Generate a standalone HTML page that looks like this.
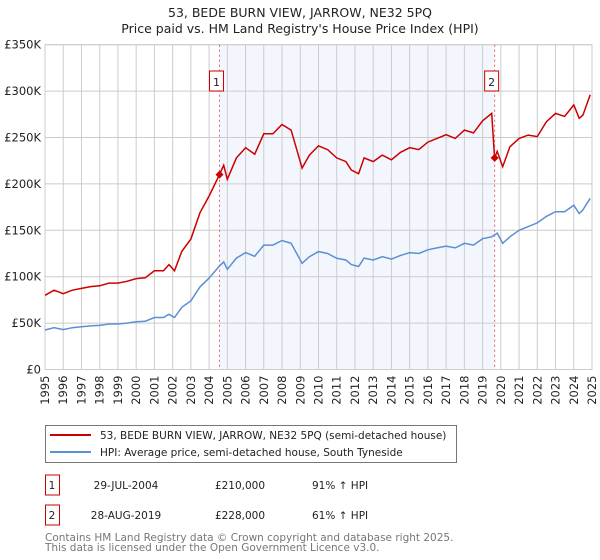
<!DOCTYPE html>
<html><head><meta charset="utf-8"><style>
body{margin:0;background:#fff;font-family:"DejaVu Sans","Liberation Sans",sans-serif;}
#wrap{position:relative;width:600px;height:560px;overflow:hidden}
svg text{font-family:"DejaVu Sans","Liberation Sans",sans-serif}
</style></head><body>
<div id="wrap">
<svg id="chart" width="600" height="560"></svg>
</div>
<script>
const years=[1995,1995.5,1996,1996.5,1997,1997.5,1998,1998.5,1999,1999.5,2000,2000.5,2001,2001.5,2001.8,2002.1,2002.5,2003,2003.5,2004,2004.57,2004.8,2005,2005.5,2006,2006.5,2007,2007.5,2008,2008.5,2009.1,2009.5,2010,2010.5,2011,2011.5,2011.8,2012.2,2012.5,2013,2013.5,2014,2014.5,2015,2015.5,2016,2016.5,2017,2017.5,2018,2018.5,2019,2019.5,2019.66,2019.8,2020.1,2020.5,2021,2021.5,2022,2022.5,2023,2023.5,2024,2024.3,2024.5,2024.9];
const hpi=[42.6,45,43,45,46,47,47.5,49,49,50,51.5,52,56,56,59.5,56,67,74,89,98.5,111.6,116,108,120,126,122,134,134,139,136,114.4,121.5,127,125,119.8,118,113,111,120,118,121.5,119,123,126,125,129,131,133,131,136,134,141,143,145,147,136,143,150,154,158,165,170,170,177,168,172,184.5];
const paid=[80,85.5,81.7,85.5,87.4,89.3,90.2,93.1,93.1,95,97.9,98.8,106.4,106.4,113,106.4,127.3,140.6,169,187,210,220,205,228,239,232,254,254,264,258,217,231,241,237,228,224,215,211,228,224,231,226,234,239,237,245,249,253,249,258,255,268,276,228,235,218.5,240,249,252.6,251,267,276,272.7,285,270.7,274,296];
const yTicks=[0,50,100,150,200,250,300,350];
const xTicks=[1995,1996,1997,1998,1999,2000,2001,2002,2003,2004,2005,2006,2007,2008,2009,2010,2011,2012,2013,2014,2015,2016,2017,2018,2019,2020,2021,2022,2023,2024,2025];
const sales=[{n:"1",year:2004.57,val:210},{n:"2",year:2019.66,val:228}];
const L=45,R=592,T=44.7,B=369.5;
const X=y=>L+(y-1995)/30*(R-L);
const Y=v=>B-v/350*(B-T);
const svg=document.getElementById('chart');
const NS='http://www.w3.org/2000/svg';
function mk(t,a,p){const e=document.createElementNS(NS,t);for(const k in a)e.setAttribute(k,a[k]);(p||svg).appendChild(e);return e;}
let e;
e=mk('text',{x:300,y:17,'text-anchor':'middle','font-size':12.5,fill:'#222'});e.textContent='53, BEDE BURN VIEW, JARROW, NE32 5PQ';


e=mk('text',{x:300,y:33,'text-anchor':'middle','font-size':12.5,fill:'#222'});e.textContent="Price paid vs. HM Land Registry's House Price Index (HPI)";


e=mk('rect',{x:X(2004.57),y:T,width:X(2019.66)-X(2004.57),height:B-T,fill:'#eef3fc',opacity:0.7});


xTicks.forEach(t=>{e=mk('line',{x1:X(t),x2:X(t),y1:T,y2:B,stroke:'#ccc','stroke-width':1});


e=mk('text',{transform:`translate(${X(t)+4},${B+6}) rotate(-90)`,'text-anchor':'end','font-size':11.5,fill:'#222'});e.textContent=t;

});
yTicks.forEach(t=>{e=mk('line',{x1:L,x2:R,y1:Y(t),y2:Y(t),stroke:'#ccc','stroke-width':1});


e=mk('text',{x:L-4,y:Y(t)+4,'text-anchor':'end','font-size':11.5,fill:'#222'});e.textContent=t===0?'£0':'£'+t+'K';

});
e=mk('rect',{x:L,y:T,width:R-L,height:B-T,fill:'none',stroke:'#ccc'});


sales.forEach(s=>{e=mk('line',{x1:X(s.year),x2:X(s.year),y1:T,y2:B,stroke:'#e06070','stroke-width':1,'stroke-dasharray':'2,3'});


e=mk('rect',{x:X(s.year)-10,y:71,width:14,height:20,fill:'#fff',stroke:'#c00'});


e=mk('text',{x:X(s.year)-3,y:86,'text-anchor':'middle','font-size':11,fill:'#222'});e.textContent=s.n;

});
const pts=a=>years.map((y,i)=>X(y).toFixed(1)+','+Y(a[i]).toFixed(1)).join(' ');
e=mk('polyline',{points:pts(hpi),fill:'none',stroke:'#5b8fd4','stroke-width':1.5});


e=mk('polyline',{points:pts(paid),fill:'none',stroke:'#cc0000','stroke-width':1.5});


sales.forEach(s=>{const cx=X(s.year),cy=Y(s.val);e=mk('polygon',{points:`${cx-4},${cy} ${cx},${cy-4} ${cx+4},${cy} ${cx},${cy+4}`,fill:'#cc0000'});

});
// legend
e=mk('rect',{x:45.5,y:425.5,width:411,height:37,fill:'#fff',stroke:'#777'});


e=mk('line',{x1:50,x2:91,y1:435,y2:435,stroke:'#cc0000','stroke-width':2});


e=mk('text',{x:100,y:439,'font-size':10.5,fill:'#222'});e.textContent='53, BEDE BURN VIEW, JARROW, NE32 5PQ (semi-detached house)';


e=mk('line',{x1:50,x2:91,y1:452,y2:452,stroke:'#5b8fd4','stroke-width':2});


e=mk('text',{x:100,y:456,'font-size':10.5,fill:'#222'});e.textContent='HPI: Average price, semi-detached house, South Tyneside';


const rows=[["1","29-JUL-2004","£210,000","91% ↑ HPI",485],["2","28-AUG-2019","£228,000","61% ↑ HPI",515]];
rows.forEach(r=>{e=mk('rect',{x:45.5,y:r[4]-10,width:14,height:20,fill:'#fff',stroke:'#c00'});


[[52,r[0],'middle'],[126,r[1],'middle'],[240,r[2],'middle'],[312,r[3],'start']].forEach(c=>{e=mk('text',{x:c[0],y:r[4]+4,'text-anchor':c[2],'font-size':10.5,fill:'#222'});e.textContent=c[1];

});});
e=mk('text',{x:45,y:541,'font-size':10.5,fill:'#777'});e.textContent='Contains HM Land Registry data © Crown copyright and database right 2025.';


e=mk('text',{x:45,y:551,'font-size':10.5,fill:'#777'});e.textContent='This data is licensed under the Open Government Licence v3.0.';


</script>
</body></html>
